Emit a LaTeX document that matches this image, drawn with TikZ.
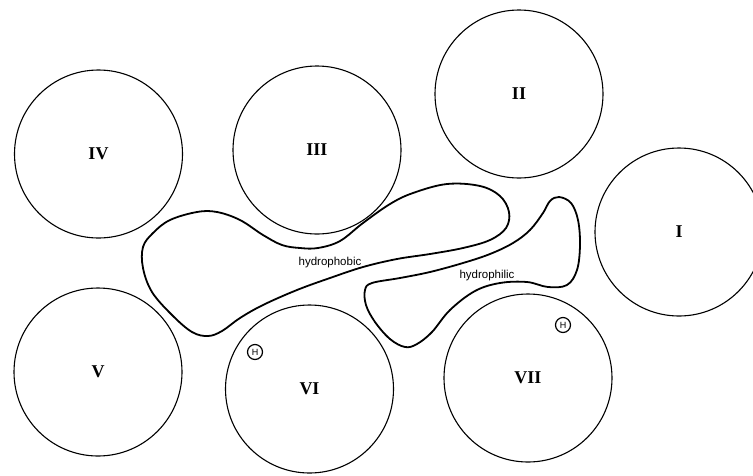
\documentclass[tikz,border=0pt]{standalone}
\usepackage{fontspec}
\setmainfont{Liberation Serif}
\newfontfamily\lblfont{Liberation Sans}
\begin{document}
\begin{tikzpicture}[x=1pt,y=-1pt,
  helix/.style={circle,draw,line width=1.1pt,minimum size=168pt,inner sep=0pt,
    font=\fontsize{18}{18}\selectfont\bfseries},
  blob/.style={line width=1.8pt,line join=round},
  lbl/.style={font=\lblfont\fontsize{11.5}{11.5}\selectfont,inner sep=0pt},
  hmark/.style={circle,draw,line width=1.2pt,minimum size=15pt,inner sep=0pt,
    font=\lblfont\fontsize{9}{9}\selectfont}]
\useasboundingbox (0,0) rectangle (753,475);
\node[helix] (IV)  at (98.5,154) {IV};
\node[helix] (III) at (317,150) {III};
\node[helix] (II)  at (519,94) {II};
\node[helix] (I)   at (679,232) {I};
\node[helix] (V)   at (98,372) {V};
\node[helix] (VI)  at (309.5,389) {VI};
\node[helix] (VII) at (528,378) {VII};
\node[hmark] (h6) at (255,352) {H};
\node[hmark] (h7) at (563,325) {H};
% hydrophobic pocket
\draw[blob] plot[smooth cycle,tension=0.6] coordinates {
  (153,233) (170,220) (197,212) (217,212) (240,220) (263,235) (282,245)
  (300,248) (318,248) (340,241) (363,223) (390,204) (413,193) (447,184)
  (480,186) (500,196) (509,212) (506,228) (490,240) (463,248) (430,254)
  (397,259) (363,267) (330,278) (297,290) (263,305) (240,318) (222,331)
  (208,336) (192,332) (172,315) (152,292) (143,268) (143,247)};
% hydrophilic pocket
\draw[blob] plot[smooth cycle,tension=0.6] coordinates {
  (365,290) (372,283) (400,278) (430,272) (463,263) (490,254) (513,243)
  (530,230) (543,213) (550,201) (559,197) (571,203) (578,220) (580,245)
  (577,270) (567,285) (548,287) (527,282) (500,283) (475,291) (450,310)
  (432,332) (417,344) (405,347) (390,339) (375,322) (366,305)};
\node[lbl] (phob) at (330,263) {hydrophobic};
\node[lbl] (phil) at (487,276) {hydrophilic};
\end{tikzpicture}
\end{document}
